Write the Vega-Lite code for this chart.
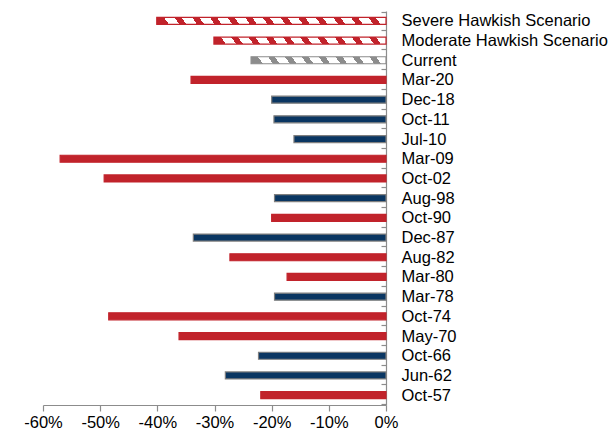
{
  "$schema": "https://vega.github.io/schema/vega-lite/v6.json",
  "autosize": {"type": "none"},
  "width": 343,
  "height": 394,
  "padding": {"left": 43, "top": 11, "right": 230, "bottom": 30},
  "background": "white",
  "config": {
    "view": {"stroke": null},
    "font": "Liberation Sans",
    "axis": {"labelFont": "Liberation Sans", "labelColor": "#000000", "domainColor": "#8C8C8C", "tickColor": "#8C8C8C", "domainWidth": 1.2, "tickWidth": 1.2}
  },
  "data": {
    "values": [
      {"period": "Severe Hawkish Scenario", "drawdown": -40.1, "group": "Severe"},
      {"period": "Moderate Hawkish Scenario", "drawdown": -30.1, "group": "Moderate"},
      {"period": "Current", "drawdown": -23.6, "group": "Current"},
      {"period": "Mar-20", "drawdown": -34.1, "group": "A"},
      {"period": "Dec-18", "drawdown": -20.0, "group": "B"},
      {"period": "Oct-11", "drawdown": -19.6, "group": "B"},
      {"period": "Jul-10", "drawdown": -16.1, "group": "B"},
      {"period": "Mar-09", "drawdown": -57.0, "group": "A"},
      {"period": "Oct-02", "drawdown": -49.3, "group": "A"},
      {"period": "Aug-98", "drawdown": -19.5, "group": "B"},
      {"period": "Oct-90", "drawdown": -20.0, "group": "A"},
      {"period": "Dec-87", "drawdown": -33.7, "group": "B"},
      {"period": "Aug-82", "drawdown": -27.3, "group": "A"},
      {"period": "Mar-80", "drawdown": -17.3, "group": "A"},
      {"period": "Mar-78", "drawdown": -19.5, "group": "B"},
      {"period": "Oct-74", "drawdown": -48.5, "group": "A"},
      {"period": "May-70", "drawdown": -36.2, "group": "A"},
      {"period": "Oct-66", "drawdown": -22.3, "group": "B"},
      {"period": "Jun-62", "drawdown": -28.1, "group": "B"},
      {"period": "Oct-57", "drawdown": -21.9, "group": "A"}
    ]
  },
  "encoding": {
    "y": {
      "field": "period",
      "type": "nominal",
      "scale": {"domain": ["Severe Hawkish Scenario", "Moderate Hawkish Scenario", "Current", "Mar-20", "Dec-18", "Oct-11", "Jul-10", "Mar-09", "Oct-02", "Aug-98", "Oct-90", "Dec-87", "Aug-82", "Mar-80", "Mar-78", "Oct-74", "May-70", "Oct-66", "Jun-62", "Oct-57"]},
      "axis": {"orient": "right", "title": null, "tickBand": "extent", "tickSize": -5, "labelPadding": 20, "labelFontSize": 16.5, "labelOverlap": false, "labelLimit": 0}
    },
    "x": {
      "field": "drawdown",
      "type": "quantitative",
      "scale": {"domain": [-60, 0], "nice": false},
      "axis": {"title": null, "values": [-60, -50, -40, -30, -20, -10, 0], "labelExpr": "datum.value + '%'", "tickSize": 6, "labelPadding": 3, "labelFontSize": 16.5, "labelFlush": false, "grid": false}
    }
  },
  "layer": [
    {
      "transform": [{"filter": "datum.group === 'A' || datum.group === 'B'"}],
      "mark": {"type": "bar", "size": 7, "strokeWidth": 1.2},
      "encoding": {
        "fill": {"field": "group", "type": "nominal", "scale": {"domain": ["A", "B"], "range": ["#C1232B", "#0A3662"]}, "legend": null},
        "stroke": {"field": "group", "type": "nominal", "scale": {"domain": ["A", "B"], "range": ["#C1232B", "#7F7F7F"]}, "legend": null}
      }
    },
    {
      "transform": [{"filter": "datum.group === 'Severe'"}],
      "mark": {"type": "bar", "size": 7, "stroke": "#C1232B", "strokeWidth": 1.2,
        "fill": {"gradient": "linear", "x1": 0, "y1": 0, "x2": 1, "y2": -0.022, "stops": [
          {"offset": 0, "color": "#C1232B"}, {"offset": 0.0308, "color": "#C1232B"}, {"offset": 0.0308, "color": "#FFFFFF"}, {"offset": 0.0769, "color": "#FFFFFF"},
          {"offset": 0.0769, "color": "#C1232B"}, {"offset": 0.1077, "color": "#C1232B"}, {"offset": 0.1077, "color": "#FFFFFF"}, {"offset": 0.1538, "color": "#FFFFFF"},
          {"offset": 0.1538, "color": "#C1232B"}, {"offset": 0.1846, "color": "#C1232B"}, {"offset": 0.1846, "color": "#FFFFFF"}, {"offset": 0.2308, "color": "#FFFFFF"},
          {"offset": 0.2308, "color": "#C1232B"}, {"offset": 0.2615, "color": "#C1232B"}, {"offset": 0.2615, "color": "#FFFFFF"}, {"offset": 0.3077, "color": "#FFFFFF"},
          {"offset": 0.3077, "color": "#C1232B"}, {"offset": 0.3385, "color": "#C1232B"}, {"offset": 0.3385, "color": "#FFFFFF"}, {"offset": 0.3846, "color": "#FFFFFF"},
          {"offset": 0.3846, "color": "#C1232B"}, {"offset": 0.4154, "color": "#C1232B"}, {"offset": 0.4154, "color": "#FFFFFF"}, {"offset": 0.4615, "color": "#FFFFFF"},
          {"offset": 0.4615, "color": "#C1232B"}, {"offset": 0.4923, "color": "#C1232B"}, {"offset": 0.4923, "color": "#FFFFFF"}, {"offset": 0.5385, "color": "#FFFFFF"},
          {"offset": 0.5385, "color": "#C1232B"}, {"offset": 0.5692, "color": "#C1232B"}, {"offset": 0.5692, "color": "#FFFFFF"}, {"offset": 0.6154, "color": "#FFFFFF"},
          {"offset": 0.6154, "color": "#C1232B"}, {"offset": 0.6462, "color": "#C1232B"}, {"offset": 0.6462, "color": "#FFFFFF"}, {"offset": 0.6923, "color": "#FFFFFF"},
          {"offset": 0.6923, "color": "#C1232B"}, {"offset": 0.7231, "color": "#C1232B"}, {"offset": 0.7231, "color": "#FFFFFF"}, {"offset": 0.7692, "color": "#FFFFFF"},
          {"offset": 0.7692, "color": "#C1232B"}, {"offset": 0.8, "color": "#C1232B"}, {"offset": 0.8, "color": "#FFFFFF"}, {"offset": 0.8462, "color": "#FFFFFF"},
          {"offset": 0.8462, "color": "#C1232B"}, {"offset": 0.8769, "color": "#C1232B"}, {"offset": 0.8769, "color": "#FFFFFF"}, {"offset": 0.9231, "color": "#FFFFFF"},
          {"offset": 0.9231, "color": "#C1232B"}, {"offset": 0.9538, "color": "#C1232B"}, {"offset": 0.9538, "color": "#FFFFFF"}, {"offset": 1, "color": "#FFFFFF"}
        ]}
      }
    },
    {
      "transform": [{"filter": "datum.group === 'Moderate'"}],
      "mark": {"type": "bar", "size": 7, "stroke": "#C1232B", "strokeWidth": 1.2,
        "fill": {"gradient": "linear", "x1": 0, "y1": 0, "x2": 1, "y2": -0.029, "stops": [
          {"offset": 0, "color": "#C1232B"}, {"offset": 0.04, "color": "#C1232B"}, {"offset": 0.04, "color": "#FFFFFF"}, {"offset": 0.1, "color": "#FFFFFF"},
          {"offset": 0.1, "color": "#C1232B"}, {"offset": 0.14, "color": "#C1232B"}, {"offset": 0.14, "color": "#FFFFFF"}, {"offset": 0.2, "color": "#FFFFFF"},
          {"offset": 0.2, "color": "#C1232B"}, {"offset": 0.24, "color": "#C1232B"}, {"offset": 0.24, "color": "#FFFFFF"}, {"offset": 0.3, "color": "#FFFFFF"},
          {"offset": 0.3, "color": "#C1232B"}, {"offset": 0.34, "color": "#C1232B"}, {"offset": 0.34, "color": "#FFFFFF"}, {"offset": 0.4, "color": "#FFFFFF"},
          {"offset": 0.4, "color": "#C1232B"}, {"offset": 0.44, "color": "#C1232B"}, {"offset": 0.44, "color": "#FFFFFF"}, {"offset": 0.5, "color": "#FFFFFF"},
          {"offset": 0.5, "color": "#C1232B"}, {"offset": 0.54, "color": "#C1232B"}, {"offset": 0.54, "color": "#FFFFFF"}, {"offset": 0.6, "color": "#FFFFFF"},
          {"offset": 0.6, "color": "#C1232B"}, {"offset": 0.64, "color": "#C1232B"}, {"offset": 0.64, "color": "#FFFFFF"}, {"offset": 0.7, "color": "#FFFFFF"},
          {"offset": 0.7, "color": "#C1232B"}, {"offset": 0.74, "color": "#C1232B"}, {"offset": 0.74, "color": "#FFFFFF"}, {"offset": 0.8, "color": "#FFFFFF"},
          {"offset": 0.8, "color": "#C1232B"}, {"offset": 0.84, "color": "#C1232B"}, {"offset": 0.84, "color": "#FFFFFF"}, {"offset": 0.9, "color": "#FFFFFF"},
          {"offset": 0.9, "color": "#C1232B"}, {"offset": 0.94, "color": "#C1232B"}, {"offset": 0.94, "color": "#FFFFFF"}, {"offset": 1, "color": "#FFFFFF"}
        ]}
      }
    },
    {
      "transform": [{"filter": "datum.group === 'Current'"}],
      "mark": {"type": "bar", "size": 7, "stroke": "#8C8C8C", "strokeWidth": 1.2,
        "fill": {"gradient": "linear", "x1": 0, "y1": 0, "x2": 1, "y2": -0.037, "stops": [
          {"offset": 0, "color": "#8C8C8C"}, {"offset": 0.05, "color": "#8C8C8C"}, {"offset": 0.05, "color": "#FFFFFF"}, {"offset": 0.125, "color": "#FFFFFF"},
          {"offset": 0.125, "color": "#8C8C8C"}, {"offset": 0.175, "color": "#8C8C8C"}, {"offset": 0.175, "color": "#FFFFFF"}, {"offset": 0.25, "color": "#FFFFFF"},
          {"offset": 0.25, "color": "#8C8C8C"}, {"offset": 0.3, "color": "#8C8C8C"}, {"offset": 0.3, "color": "#FFFFFF"}, {"offset": 0.375, "color": "#FFFFFF"},
          {"offset": 0.375, "color": "#8C8C8C"}, {"offset": 0.425, "color": "#8C8C8C"}, {"offset": 0.425, "color": "#FFFFFF"}, {"offset": 0.5, "color": "#FFFFFF"},
          {"offset": 0.5, "color": "#8C8C8C"}, {"offset": 0.55, "color": "#8C8C8C"}, {"offset": 0.55, "color": "#FFFFFF"}, {"offset": 0.625, "color": "#FFFFFF"},
          {"offset": 0.625, "color": "#8C8C8C"}, {"offset": 0.675, "color": "#8C8C8C"}, {"offset": 0.675, "color": "#FFFFFF"}, {"offset": 0.75, "color": "#FFFFFF"},
          {"offset": 0.75, "color": "#8C8C8C"}, {"offset": 0.8, "color": "#8C8C8C"}, {"offset": 0.8, "color": "#FFFFFF"}, {"offset": 0.875, "color": "#FFFFFF"},
          {"offset": 0.875, "color": "#8C8C8C"}, {"offset": 0.925, "color": "#8C8C8C"}, {"offset": 0.925, "color": "#FFFFFF"}, {"offset": 1, "color": "#FFFFFF"}
        ]}
      }
    }
  ]
}
